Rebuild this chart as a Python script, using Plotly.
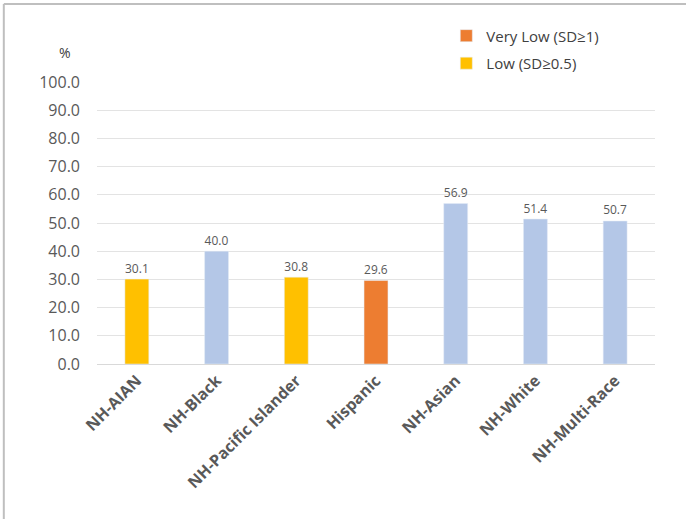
import plotly.graph_objects as go

# Share of each group, in percent
groups = ["NH-AIAN", "NH-Black", "NH-Pacific Islander", "Hispanic",
          "NH-Asian", "NH-White", "NH-Multi-Race"]
values = [30.1, 40.0, 30.8, 29.6, 56.9, 51.4, 50.7]
# Rating per group: "very_low", "low" or "other"
ratings = ["low", "other", "low", "very_low", "other", "other", "other"]

tick_vals = [0, 10, 20, 30, 40, 50, 60, 70, 80, 90, 100]

series = [
    ("very_low", "Very Low (SD≥1)", "#ED7D31", True),
    ("low", "Low (SD≥0.5)", "#FFC000", True),
    ("other", "Other", "#B4C7E7", False),
]

TEXT = "#595959"
FONT = "Open Sans, sans-serif"

fig = go.Figure()
for key, name, color, show in series:
    xs = [g for g, r in zip(groups, ratings) if r == key]
    ys = [v for v, r in zip(values, ratings) if r == key]
    fig.add_trace(go.Bar(
        x=xs, y=ys, name=name, legendgroup=key,
        marker_color=color, showlegend=show,
        text=[f"{v:.1f}" for v in ys], textposition="outside",
        textfont=dict(size=13.5, color=TEXT, family=FONT), cliponaxis=False,
    ))

fig.update_layout(
    width=686, height=519,
    margin=dict(l=97, r=31, t=82, b=155),
    paper_bgcolor="white", plot_bgcolor="white",
    barmode="overlay", bargap=0.7,
    font=dict(family=FONT, color=TEXT),
    legend=dict(x=0.626, y=1.222, xanchor="left", yanchor="top",
                font=dict(size=15, color="#404040", family=FONT),
                tracegroupgap=5, itemwidth=30),
    xaxis=dict(categoryorder="array", categoryarray=groups,
               tickangle=-45, showline=True, linecolor="#D9D9D9",
               tickfont=dict(size=16, color=TEXT, family=FONT, weight="bold")),
    yaxis=dict(range=[0, 100], tickvals=tick_vals,
               ticktext=[f"{t:.1f}" for t in tick_vals],
               showgrid=True, gridcolor="#E3E3E3", zeroline=False,
               tickfont=dict(size=16, color=TEXT, family=FONT),
               ticks="", ticklabelstandoff=16),
)

# "%" unit label above the value axis
fig.add_annotation(text="%", xref="paper", yref="paper",
                   x=-0.057, y=1.106, xanchor="center", yanchor="middle",
                   showarrow=False,
                   font=dict(size=14, color="#404040", family=FONT))

# Frame lines along the top and left edges
fig.add_shape(type="line", xref="paper", yref="paper",
              x0=-0.167, x1=1.1, y0=1.277, y1=1.277,
              line=dict(color="#BFBFBF", width=2))
fig.add_shape(type="line", xref="paper", yref="paper",
              x0=-0.167, x1=-0.167, y0=1.277, y1=-0.55,
              line=dict(color="#BFBFBF", width=2))

fig.write_html("out.html")
